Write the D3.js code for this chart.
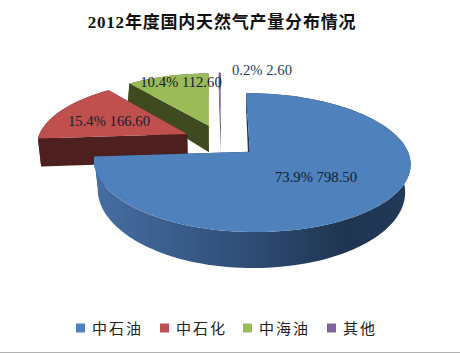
<!DOCTYPE html>
<html>
<head>
<meta charset="utf-8">
<script src="https://d3js.org/d3.v7.min.js"></script>
<style>
  html, body { margin: 0; padding: 0; background: #fff; }
  svg { display: block; }
</style>
</head>
<body>
<svg id="chart" width="460" height="353"></svg>
<script>
const title = "2012年度国内天然气产量分布情况";
const categories = ["中石油", "中石化", "中海油", "其他"];
const values = [798.5, 166.6, 112.6, 2.6];
const percents = ["73.9%", "15.4%", "10.4%", "0.2%"];
const colors = ["#4f81bd", "#c0504d", "#9bbb59", "#8064a2"];
const wallColors = ["#2a4668", "#4d1f1e", "#3f4a20", "#3f3151"];

const svg = d3.select("#chart");

// perspective of the pie: top face and bottom face are two planes
const cx = 221, explode = 0.25;
const topFace = { y0: 140.5, fLeft: 150, fRight: 154, g: 64.4, k: 0.151 };
const bottomFace = { y0: 169, fLeft: 147.2, fRight: 151.5, g: 73.4, k: 0.113 };

function project(face, X, Y) {
    const d = 1 + face.k * Y;
    return [cx + (X < 0 ? face.fLeft : face.fRight) * X / d, face.y0 - face.g * Y / d];
}

const pie = d3.pie().sort(null).value(d => d);
const arcs = pie(values);

const line = d3.line();

// ground position of a point of a slice, the slice is pushed out along its bisector
function ground(a, r, theta) {
    const mid = (a.startAngle + a.endAngle) / 2;
    return [explode * Math.sin(mid) + r * Math.sin(theta), explode * Math.cos(mid) + r * Math.cos(theta)];
}

function rim(a) {
    return d3.range(0, 1.0001, 1 / 120).map(t => a.startAngle + t * (a.endAngle - a.startAngle));
}

const defs = svg.append("defs");
const grad = defs.append("linearGradient").attr("id", "blueWall")
    .attr("gradientUnits", "userSpaceOnUse")
    .attr("x1", 90).attr("x2", 410).attr("y1", 0).attr("y2", 0);
grad.append("stop").attr("offset", 0).attr("stop-color", "#476fa3");
grad.append("stop").attr("offset", 0.45).attr("stop-color", "#31507a");
grad.append("stop").attr("offset", 0.8).attr("stop-color", "#1f3550");
grad.append("stop").attr("offset", 1).attr("stop-color", "#22395a");

// back slices first
[3, 2, 1, 0].forEach(i => {
    const a = arcs[i];
    const g = svg.append("g");
    const wall = i === 0 ? "url(#blueWall)" : wallColors[i];
    const angles = rim(a);

    // radial walls
    [a.startAngle, a.endAngle].forEach(theta => {
        const p0 = ground(a, 0, theta), p1 = ground(a, 1, theta);
        g.append("path")
            .attr("d", line([project(topFace, ...p0), project(topFace, ...p1), project(bottomFace, ...p1), project(bottomFace, ...p0)]) + "Z")
            .attr("fill", i === 0 ? "#1f3550" : wallColors[i]);
    });

    // outer wall
    const up = angles.map(t => project(topFace, ...ground(a, 1, t)));
    const down = angles.map(t => project(bottomFace, ...ground(a, 1, t))).reverse();
    g.append("path")
        .attr("d", line(up.concat(down)) + "Z")
        .attr("fill", wall);

    // top face
    const face = [project(topFace, ...ground(a, 0, 0))].concat(up);
    g.append("path")
        .attr("d", line(face) + "Z")
        .attr("fill", colors[i]);
});

// data labels
const labelPos = [[316, 179], [109, 123], [181, 84], [262, 72]];
svg.append("g").selectAll("text")
    .data(values)
    .enter().append("text")
    .attr("x", (d, i) => labelPos[i][0])
    .attr("y", (d, i) => labelPos[i][1])
    .attr("text-anchor", "middle")
    .attr("dominant-baseline", "middle")
    .attr("font-family", "'Liberation Serif', serif")
    .attr("font-size", 14.7)
    .attr("fill", (d, i) => i === 3 ? "#1f3b5c" : "#10202c")
    .text((d, i) => `${percents[i]} ${d.toFixed(2)}`);

// title
svg.append("text")
    .attr("x", 222).attr("y", 28)
    .attr("text-anchor", "middle")
    .attr("font-family", "'Liberation Serif', 'Noto Sans CJK SC', serif")
    .attr("font-size", 17)
    .attr("font-weight", "bold")
    .attr("letter-spacing", 0.8)
    .attr("fill", "#111")
    .text(title);

// legend
const legendX = [76, 160, 243, 327];
const legend = svg.append("g").selectAll("g")
    .data(categories)
    .enter().append("g")
    .attr("transform", (d, i) => `translate(${legendX[i]},328)`);
legend.append("rect")
    .attr("x", 0).attr("y", -4.5)
    .attr("width", 9).attr("height", 9)
    .attr("fill", (d, i) => colors[i]);
legend.append("text")
    .attr("x", 16).attr("y", 5.5)
    .attr("font-family", "'Noto Sans CJK SC', sans-serif")
    .attr("font-size", 15)
    .attr("letter-spacing", 2)
    .attr("fill", "#222")
    .text(d => d);

// thin grey edge of the picture
svg.append("line")
    .attr("x1", 0).attr("x2", 460).attr("y1", 352.5).attr("y2", 352.5)
    .attr("stroke", "#b0b0b0");
</script>
</body>
</html>
